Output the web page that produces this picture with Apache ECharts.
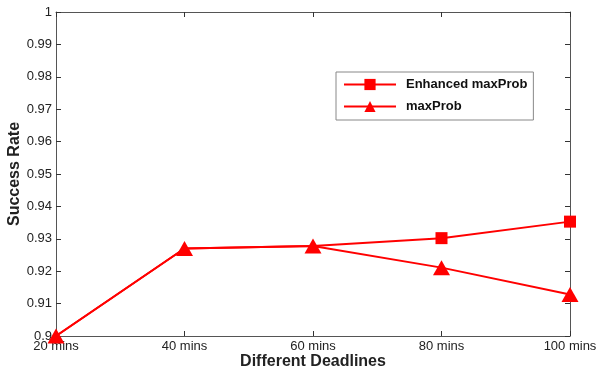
<!DOCTYPE html>
<html>
<head>
<meta charset="utf-8">
<script src="https://cdn.jsdelivr.net/npm/echarts@6/dist/echarts.min.js"></script>
<style>
  html, body { margin: 0; padding: 0; background: #fff; }
  #main { width: 597px; height: 373px; }
</style>
</head>
<body>
<div id="main"></div>
<script>
var deadlines = ['20 mins', '40 mins', '60 mins', '80 mins', '100 mins'];
var enhancedMaxProb = [0.9, 0.927, 0.9278, 0.9302, 0.9353];
var maxProb = [0.9, 0.927, 0.9278, 0.9211, 0.9128];

// the squares are only seen where the two curves part
var enhancedItems = enhancedMaxProb.map(function (v, i) {
    return i < 3 ? { value: v, symbol: 'none' } : v;
});

var chart = echarts.init(document.getElementById('main'));
var axisLine = { lineStyle: { color: '#555', width: 1 } };
var tickIn = { inside: true, length: 5, lineStyle: { color: '#333' } };

var option = {
    animation: false,
    textStyle: { fontFamily: 'Liberation Sans, Arial, sans-serif' },
    grid: { left: 56, right: 27, top: 12, bottom: 37, outerBoundsMode: 'none', containLabel: false },
    legend: {
        orient: 'vertical',
        left: 336,
        top: 72,
        padding: [6, 6, 7, 7],
        itemGap: 9,
        itemWidth: 52,
        itemHeight: 14,
        borderColor: '#888',
        borderWidth: 1,
        borderRadius: 0,
        backgroundColor: '#fff',
        textStyle: { fontWeight: 'bold', fontSize: 13, color: '#111', padding: [0, 0, 0, 5] },
        data: ['Enhanced maxProb', 'maxProb']
    },
    xAxis: [{
        type: 'category',
        data: deadlines,
        boundaryGap: false,
        name: 'Different Deadlines',
        nameLocation: 'middle',
        nameGap: 18,
        nameMoveOverlap: false,
        nameTextStyle: { fontWeight: 'bold', fontSize: 16, color: '#222' },
        axisLine: axisLine,
        axisTick: tickIn,
        axisLabel: { color: '#222', fontSize: 13, margin: 4 },
        splitLine: { show: false }
    }, {
        type: 'category',
        data: deadlines,
        boundaryGap: false,
        position: 'top',
        axisLine: axisLine,
        axisTick: tickIn,
        axisLabel: { show: false },
        splitLine: { show: false }
    }],
    yAxis: [{
        type: 'value',
        min: 0.9,
        max: 1,
        interval: 0.01,
        name: 'Success Rate',
        nameLocation: 'middle',
        nameGap: 33,
        nameMoveOverlap: false,
        nameTextStyle: { fontWeight: 'bold', fontSize: 16, color: '#222' },
        axisLine: { show: true, lineStyle: { color: '#555', width: 1 } },
        axisTick: { show: true, inside: true, length: 5, lineStyle: { color: '#333' } },
        axisLabel: {
            color: '#222', fontSize: 13, margin: 4,
            formatter: function (v) { return parseFloat(v.toFixed(2)).toString(); }
        },
        splitLine: { show: false }
    }, {
        type: 'value',
        min: 0.9,
        max: 1,
        interval: 0.01,
        position: 'right',
        axisLine: { show: true, lineStyle: { color: '#555', width: 1 } },
        axisTick: { show: true, inside: true, length: 5, lineStyle: { color: '#333' } },
        axisLabel: { show: false },
        splitLine: { show: false }
    }],
    series: [{
        name: 'Enhanced maxProb',
        type: 'line',
        data: enhancedItems,
        symbol: 'rect',
        symbolSize: 12,
        clip: false,
        color: '#ff0000',
        lineStyle: { width: 2, color: '#ff0000' },
        itemStyle: { color: '#ff0000' },
        z: 2
    }, {
        name: 'maxProb',
        type: 'line',
        data: maxProb,
        symbol: 'triangle',
        symbolSize: [17, 15],
        clip: false,
        color: '#ff0000',
        lineStyle: { width: 2, color: '#ff0000' },
        itemStyle: { color: '#ff0000' },
        z: 3
    }]
};
chart.setOption(option);
</script>
</body>
</html>
